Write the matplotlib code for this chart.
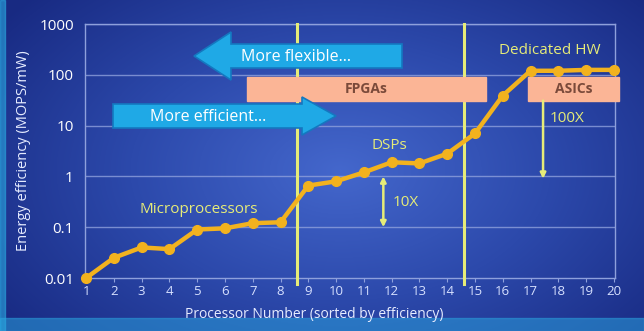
import numpy as np
import matplotlib.pyplot as plt
from matplotlib.patches import Polygon, Rectangle
from matplotlib.colors import LinearSegmentedColormap

# Energy efficiency per processor, sorted by efficiency
proc_num = list(range(1, 21))
efficiency = [0.01, 0.025, 0.04, 0.037, 0.09, 0.095, 0.12, 0.125, 0.66, 0.8,
              1.2, 1.9, 1.8, 2.8, 7.0, 39, 120, 120, 125, 125]

y_ticks = [0.01, 0.1, 1, 10, 100, 1000]
y_tick_labels = ['0.01', '0.1', '1', '10', '100', '1000']

# Category boundaries and boxes (processor-number axis, efficiency axis)
dividers = [8.6, 14.6]
fpga_span = (6.8, 15.4)
asic_span = (16.9, 20.2)
box_range = (31, 91)

FONT = ['Open Sans', 'DejaVu Sans']
YELLOW = '#e6ec78'
LINE = '#f2b21e'
TEXT = 'white'

fig = plt.figure(figsize=(6.44, 3.31), dpi=100)

# Background: radial blue gradient, brighter towards the middle
bg = fig.add_axes([0, 0, 1, 1])
bg.set_axis_off()
yy, xx = np.mgrid[0:331, 0:644]
r = np.sqrt(((xx - 340) / 420.0) ** 2 + ((yy - 170) / 260.0) ** 2)
cmap = LinearSegmentedColormap.from_list('bgblue', ['#4467cc', '#2c49ab', '#182a82'])
bg.imshow(np.clip(r, 0, 1), cmap=cmap, aspect='auto', extent=[0, 644, 331, 0])
# cyan strips at bottom and left edges
bg.add_patch(Rectangle((0, 318), 644, 13, color='#2a9fdc', alpha=0.55))
bg.add_patch(Rectangle((0, 0), 5, 331, color='#2aa8e0', alpha=0.6))
bg.set_xlim(0, 644)
bg.set_ylim(331, 0)

ax = fig.add_axes([85 / 644, 1 - 278 / 331, 530 / 644, 254 / 331])
ax.set_facecolor('none')
ax.set_yscale('log')
ax.set_xlim(0.96, 20.04)
ax.set_ylim(0.01, 1000)

for y in y_ticks[1:]:
    ax.axhline(y, color='#8ea0dc', lw=1.0, alpha=0.8, zorder=1)
for side in ['left', 'top', 'right', 'bottom']:
    ax.spines[side].set_color('#8ea0dc')
    ax.spines[side].set_linewidth(1.0)

ax.set_yticks(y_ticks)
ax.set_yticklabels(y_tick_labels, family=FONT, fontsize=11, color=TEXT)
ax.minorticks_off()
ax.set_xticks(proc_num)
ax.set_xticklabels([str(n) for n in proc_num], family=FONT, fontsize=9.5,
                   color='#d6e0ff')
ax.tick_params(axis='y', length=0, pad=8)
ax.tick_params(axis='x', length=3, color='#8ea0dc', pad=2)
ax.set_xlabel('Processor Number (sorted by efficiency)', family=FONT,
              fontsize=10, color='#e6ecff', labelpad=5)
ax.xaxis.set_label_coords((314 - 85) / 530, -0.115)
ax.set_ylabel('Energy efficiency (MOPS/mW)', family=FONT, fontsize=10.5,
              color='#e6ecff', labelpad=6)

# Category dividers
for xd in dividers:
    ax.plot([xd, xd], [0.0075, 1000], color=YELLOW, lw=2.2, zorder=3,
            clip_on=False)

# Efficiency curve
ax.plot(proc_num, efficiency, color=LINE, lw=3.2, marker='o', ms=7,
        mfc=LINE, mec=LINE, zorder=5, clip_on=False)

# FPGA / ASIC boxes
for (x0, x1), label in [(fpga_span, 'FPGAs'), (asic_span, 'ASICs')]:
    ax.add_patch(Rectangle((x0, box_range[0]), x1 - x0,
                           box_range[1] - box_range[0], color='#fbb596',
                           zorder=4, clip_on=False))
    ax.text((x0 + x1) / 2, np.sqrt(box_range[0] * box_range[1]), label,
            family=FONT, fontsize=10, weight='bold', color='#7a4a3a',
            ha='center', va='center', zorder=6)

# Labels
ax.text(17.7, 300, 'Dedicated HW', family=FONT, fontsize=11, color=YELLOW,
        ha='center', va='center', zorder=6)
ax.text(11.9, 2.9, 'DSPs', family=FONT, fontsize=11, color=YELLOW,
        ha='center', va='bottom', zorder=6)
ax.text(5.05, 0.22, 'Microprocessors', family=FONT, fontsize=11,
        color=YELLOW, ha='center', va='center', zorder=6)
ax.text(12.5, 0.3, '10X', family=FONT, fontsize=11, color=YELLOW,
        ha='center', va='center', zorder=6)
ax.text(18.3, 14, '100X', family=FONT, fontsize=11, color=YELLOW,
        ha='center', va='center', zorder=6)

# 10X double arrow and 100X down arrow
ax.annotate('', xy=(11.7, 0.1), xytext=(11.7, 1.0),
            arrowprops=dict(arrowstyle='<|-|>', color=YELLOW, lw=1.8,
                            mutation_scale=8, shrinkA=0, shrinkB=0), zorder=6)
ax.annotate('', xy=(17.45, 0.9), xytext=(17.45, 31),
            arrowprops=dict(arrowstyle='-|>', color=YELLOW, lw=1.8,
                            mutation_scale=8, shrinkA=0, shrinkB=0), zorder=6)

# Overlay in figure pixels (origin top-left) for the block arrows
top = fig.add_axes([0, 0, 1, 1])
top.set_axis_off()
top.set_facecolor('none')
top.set_xlim(0, 644)
top.set_ylim(331, 0)


def block_arrow(x_tail, x_tip, x_base, yc, body_h, head_h, text, tx):
    pts = [(x_tail, yc - body_h / 2), (x_base, yc - body_h / 2),
           (x_base, yc - head_h / 2), (x_tip, yc),
           (x_base, yc + head_h / 2), (x_base, yc + body_h / 2),
           (x_tail, yc + body_h / 2)]
    top.add_patch(Polygon(pts, closed=True, facecolor='#1fa9e6',
                          edgecolor='#1478c0', lw=1.2, zorder=5))
    top.text(tx, yc + 1, text, family=FONT, fontsize=11.5, color='white',
             ha='center', va='center', zorder=6)


block_arrow(402, 194, 231, 56, 24, 48, 'More flexible...', 296)
block_arrow(113, 336, 302, 116, 24, 38, 'More efficient...', 208)

plt.savefig('out.png', dpi=100)
